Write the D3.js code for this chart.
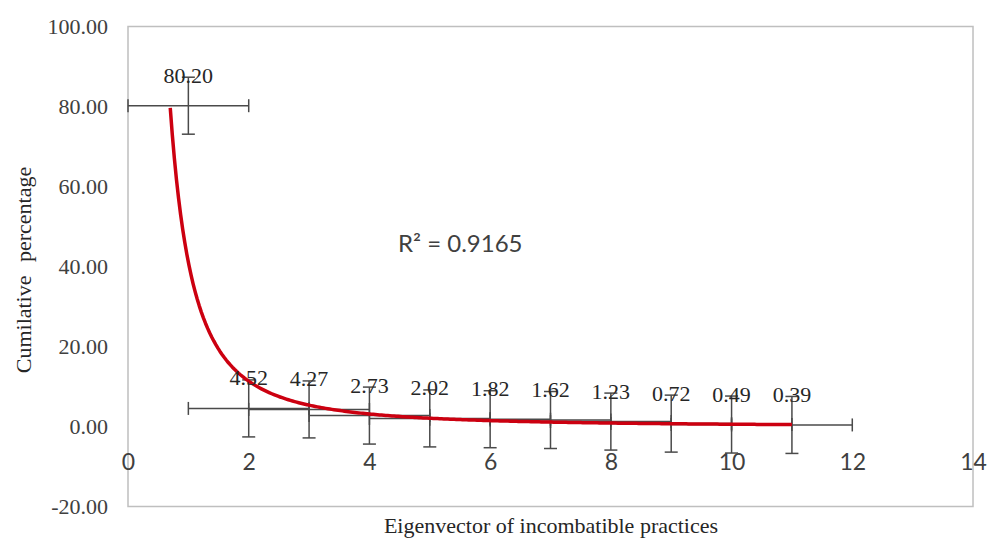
<!DOCTYPE html>
<html>
<head>
<meta charset="utf-8">
<script src="https://cdn.jsdelivr.net/npm/d3@7"></script>
<style>
  html, body { margin: 0; padding: 0; background: #fff; }
  #chart { width: 987px; height: 538px; }
</style>
</head>
<body>
<div id="chart"></div>
<script>
// valores
const eigenIndex = [1, 2, 3, 4, 5, 6, 7, 8, 9, 10, 11];
const cumulativePct = [80.20, 4.52, 4.27, 2.73, 2.02, 1.82, 1.62, 1.23, 0.72, 0.49, 0.39];
const xTicks = [0, 2, 4, 6, 8, 10, 12, 14];
const yTicks = [-20, 0, 20, 40, 60, 80, 100];
const r2Label = 'R² = 0.9165';

const width = 987, height = 538;
const serif = '"Liberation Serif", "Times New Roman", serif';
const sans = 'Lato, "Open Sans", sans-serif';
const fmt2 = v => d3.format('.2f')(v).replace('\u2212', '-');

const svg = d3.select('#chart').append('svg')
  .attr('width', width)
  .attr('height', height);

const x = d3.scaleLinear().domain([0, 14]).range([128, 973]);
const y = d3.scaleLinear().domain([-20, 100]).range([506.5, 26.5]);

// borde del área de trazado
svg.append('rect')
  .attr('x', x(0)).attr('y', y(100))
  .attr('width', x(14) - x(0)).attr('height', y(-20) - y(100))
  .attr('fill', 'none')
  .attr('stroke', '#bfbfbf')
  .attr('stroke-width', 1.5);

// eje Y
const yAxis = svg.append('g')
  .attr('transform', `translate(${x(0)},0)`)
  .call(d3.axisLeft(y).tickValues(yTicks).tickFormat(fmt2).tickSize(0).tickPadding(20));
yAxis.select('.domain').remove();
yAxis.selectAll('text')
  .attr('font-family', serif).attr('font-size', 22).attr('fill', '#404040');

// eje X (etiquetas por debajo de la línea cero)
const xAxis = svg.append('g')
  .attr('transform', 'translate(0,462)')
  .call(d3.axisBottom(x).tickValues(xTicks).tickFormat(d3.format('d')).tickSize(0).tickPadding(0));
xAxis.select('.domain').remove();
xAxis.selectAll('text')
  .attr('y', 0).attr('dy', '0.35em')
  .attr('font-family', sans).attr('font-size', 23).attr('fill', '#404040');

// barras de error: error estándar (como en Excel)
function stdError(vals) {
  const m = d3.mean(vals);
  const ss = d3.sum(vals, v => (v - m) * (v - m));
  return Math.sqrt(ss / (vals.length * (vals.length - 1)));
}
const errY = stdError(cumulativePct);
const errX = stdError(eigenIndex);
const points = eigenIndex.map((d, i) => ({ x: d, y: cumulativePct[i] }));
const cap = 6.5;
const barColor = '#4a4a4a';

const bars = svg.append('g')
  .attr('stroke', barColor)
  .attr('stroke-width', 1.5)
  .attr('fill', 'none');

points.forEach(p => {
  const cx = x(p.x), cy = y(p.y);
  const x0 = x(p.x - errX), x1 = x(p.x + errX);
  const y0 = y(p.y + errY), y1 = y(p.y - errY);
  bars.append('line').attr('x1', x0).attr('x2', x1).attr('y1', cy).attr('y2', cy);
  bars.append('line').attr('x1', x0).attr('x2', x0).attr('y1', cy - cap).attr('y2', cy + cap);
  bars.append('line').attr('x1', x1).attr('x2', x1).attr('y1', cy - cap).attr('y2', cy + cap);
  bars.append('line').attr('x1', cx).attr('x2', cx).attr('y1', y0).attr('y2', y1);
  bars.append('line').attr('x1', cx - cap).attr('x2', cx + cap).attr('y1', y0).attr('y2', y0);
  bars.append('line').attr('x1', cx - cap).attr('x2', cx + cap).attr('y1', y1).attr('y2', y1);
});

// línea de tendencia potencial: ajuste ln(y) = ln(a) + b ln(x)
const lx = eigenIndex.map(Math.log);
const ly = cumulativePct.map(Math.log);
const mx = d3.mean(lx), my = d3.mean(ly);
const sxy = d3.sum(lx, (v, i) => (v - mx) * (ly[i] - my));
const sxx = d3.sum(lx, v => (v - mx) * (v - mx));
const b = sxy / sxx;
const a = Math.exp(my - b * mx);

const backward = 0.3;
const xStart = d3.min(eigenIndex) - backward, xEnd = d3.max(eigenIndex);
const trend = d3.range(0, 301).map(i => {
  const t = xStart + (xEnd - xStart) * i / 300;
  return { x: t, y: a * Math.pow(t, b) };
});

svg.append('path')
  .datum(trend)
  .attr('fill', 'none')
  .attr('stroke', '#cc0010')
  .attr('stroke-width', 3.5)
  .attr('stroke-linejoin', 'round')
  .attr('d', d3.line().x(d => x(d.x)).y(d => y(d.y)));

// etiquetas de datos
svg.append('g')
  .selectAll('text')
  .data(points)
  .join('text')
  .attr('x', d => x(d.x))
  .attr('y', d => y(d.y) - 23)
  .attr('text-anchor', 'middle')
  .attr('font-family', serif)
  .attr('font-size', 22)
  .attr('fill', '#262626')
  .text(d => fmt2(d.y));

// R²
svg.append('text')
  .attr('x', 398).attr('y', 252)
  .attr('font-family', sans).attr('font-size', 24)
  .attr('fill', '#404040')
  .text(r2Label);

// títulos de ejes
svg.append('text')
  .attr('x', 551).attr('y', 533)
  .attr('text-anchor', 'middle')
  .attr('font-family', serif).attr('font-size', 22)
  .attr('fill', '#262626')
  .text('Eigenvector of incombatible practices');

svg.append('text')
  .attr('transform', 'translate(31,270) rotate(-90)')
  .attr('text-anchor', 'middle')
  .attr('font-family', serif).attr('font-size', 22)
  .attr('fill', '#262626')
  .attr('word-spacing', 8)
  .text('Cumilative percentage');
</script>
</body>
</html>
